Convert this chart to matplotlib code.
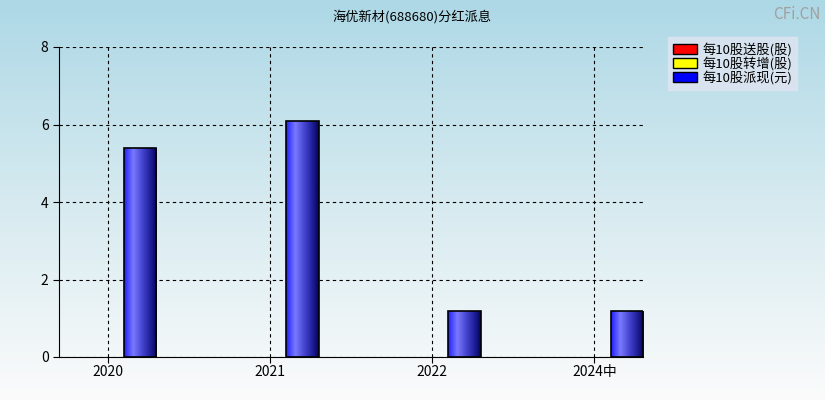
import numpy as np
import matplotlib.pyplot as plt
from matplotlib.patches import Patch, Rectangle
from matplotlib.colors import LinearSegmentedColormap

plt.rcParams['font.family'] = ['Noto Sans CJK SC', 'DejaVu Sans']

periods = ['2020', '2021', '2022', '2024中']
song = [0, 0, 0, 0]        # 每10股送股(股)
zhuan = [0, 0, 0, 0]       # 每10股转增(股)
pai = [5.4, 6.1, 1.2, 1.2]  # 每10股派现(元)

fig = plt.figure(figsize=(8.25, 4), dpi=100)

# background gradient
bg = fig.add_axes([0, 0, 1, 1])
bg_cmap = LinearSegmentedColormap.from_list('bg', ['#add8e6', '#d6eaf0', '#fbfbfb'])
bg.imshow(np.linspace(0, 1, 256).reshape(-1, 1), aspect='auto', cmap=bg_cmap, extent=[0, 1, 0, 1])
bg.axis('off')

ax = fig.add_axes([59/825, 43/400, 584/825, 310/400])
ax.patch.set_alpha(0)
x = np.arange(len(periods))
ax.set_xlim(-0.3, 3.3)
ax.set_ylim(0, 8)

bar_cmap = LinearSegmentedColormap.from_list(
    'bar', [(0, '#2020ff'), (0.28, '#7a7aff'), (0.55, '#4646d2'), (0.8, '#20209a'), (1, '#03035a')])
grad = np.linspace(0, 1, 100).reshape(1, -1)
w = 0.2
for vals, off, col in [(song, -0.2, 'red'), (zhuan, 0.0, 'yellow'), (pai, 0.2, None)]:
    for xi, v in zip(x, vals):
        if v <= 0:
            continue
        x0 = xi + off - w / 2
        if col is None:
            im = ax.imshow(grad, aspect='auto', cmap=bar_cmap, extent=[x0, x0 + w, 0, v], zorder=3)
            rect = Rectangle((x0, 0), w, v, facecolor='none', edgecolor='black', lw=1.2, zorder=4)
            ax.add_patch(rect)
            im.set_clip_path(rect)
        else:
            ax.bar(xi + off, v, w, color=col, edgecolor='black', zorder=3)

ax.set_xticks(x)
ax.set_xticklabels(periods, fontsize=10)
ax.set_yticks([0, 2, 4, 6, 8])
ax.tick_params(axis='y', labelsize=10, length=4)
ax.tick_params(axis='x', length=4, pad=2)
ax.grid(True, color='black', linestyle=(0, (3, 3)), lw=0.8)
ax.spines['top'].set_visible(False)
ax.spines['right'].set_visible(False)
ax.set_aspect('auto')

fig.text(0.5, 1 - 17/400, '海优新材(688680)分红派息', ha='center', va='center', fontsize=9.5)
fig.text(0.995, 0.985, 'CFi.CN', ha='right', va='top', fontsize=11, color='#a0a0a0')

handles = [Patch(facecolor='red', edgecolor='black'),
           Patch(facecolor='yellow', edgecolor='black'),
           Patch(facecolor='blue', edgecolor='black')]
labels = ['每10股送股(股)', '每10股转增(股)', '每10股派现(元)']
leg = fig.legend(handles, labels, loc='upper left', bbox_to_anchor=(668/825, 1 - 37/400),
                 fontsize=9.5, frameon=True, fancybox=False, handlelength=1.8, handleheight=0.8,
                 labelspacing=0.0, borderpad=0.4, handletextpad=0.4, borderaxespad=0)
leg.get_frame().set_facecolor('#dfe5f1')
leg.get_frame().set_edgecolor('#dfe5f1')

fig.savefig('out.png', dpi=100)
